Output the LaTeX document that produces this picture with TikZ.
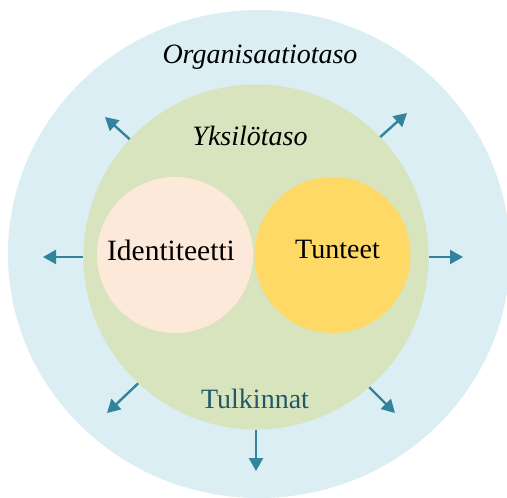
\documentclass[tikz,border=0pt]{standalone}
\usepackage{fontspec}
\setmainfont{Liberation Serif}
\usepackage{xcolor}
\usetikzlibrary{arrows.meta}

\definecolor{orgblue}{HTML}{DAEEF3}
\definecolor{indgreen}{HTML}{D7E4BD}
\definecolor{idpeach}{HTML}{FDE9D9}
\definecolor{feelgold}{HTML}{FFD966}
\definecolor{arrteal}{HTML}{31849B}
\definecolor{txtteal}{HTML}{215868}

\tikzset{
    level/.style={circle, inner sep=0pt, draw=none},
    lbl/.style={anchor=base, inner sep=0pt, font=\fontsize{28}{34}\selectfont},
    spread/.style={-{Triangle[length=13pt,width=14pt]}, line width=2.4pt, draw=arrteal}
}

\begin{document}
\begin{tikzpicture}[x=1pt, y=-1pt]
        \useasboundingbox (0, 0) rectangle (507, 498);
        \clip (0, 0) rectangle (507, 498);
        \fill[orgblue] (259, 254) ellipse [x radius=251pt, y radius=244pt];
        \node[level, fill=indgreen, minimum size=345pt] (ind) at (256, 257) {};
        \node[level, fill=idpeach, minimum size=156pt] (idc) at (175, 255) {};
        \node[level, fill=feelgold, minimum size=156pt] (tuc) at (332.5, 255) {};

        \node[lbl] (org) at (260, 63) {\itshape Organisaatiotaso};
        \node[lbl] (yks) at (250, 145) {\itshape Yksil\"otaso};
        \node[lbl, font=\fontsize{29.5}{34}\selectfont] (idt) at (171, 260) {Identiteetti};
        \node[lbl] (tun) at (337.5, 258) {Tunteet};
        \node[lbl, text=txtteal] (tul) at (255, 408) {Tulkinnat};

        \coordinate (ulTip) at (105, 117);
        \coordinate (urTip) at (407, 113);
        \coordinate (lTip) at (43, 257);
        \coordinate (rTip) at (463, 257);
        \coordinate (llTip) at (107, 413);
        \coordinate (lrTip) at (395, 413);
        \coordinate (bTip) at (256, 471);
        \draw[spread] (ind.137) -- (ulTip);
        \draw[spread] (ind.44) -- (urTip);
        \draw[spread] (ind.180) -- (lTip);
        \draw[spread] (ind.0) -- (rTip);
        \draw[spread] (ind.227) -- (llTip);
        \draw[spread] (ind.311) -- (lrTip);
        \draw[spread] (ind.270) -- (bTip);
    \end{tikzpicture}
\end{document}
